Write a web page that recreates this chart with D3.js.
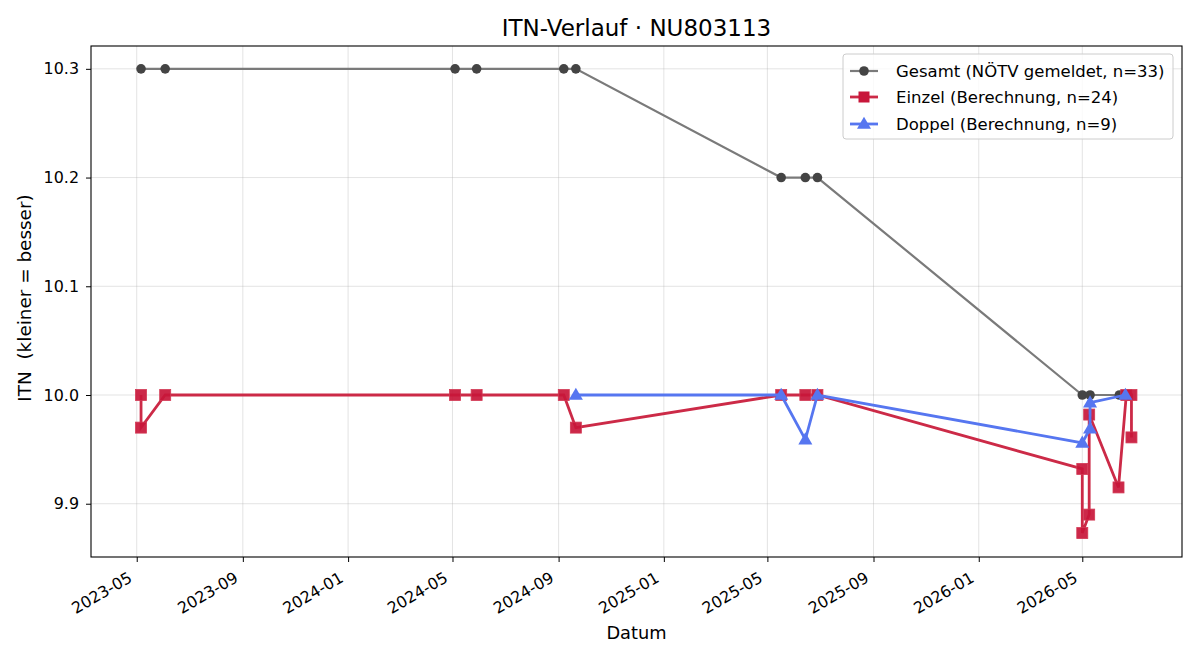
<!DOCTYPE html>
<html><head><meta charset="utf-8">
<script src="https://cdn.jsdelivr.net/npm/d3@7"></script>
<style>body{margin:0;background:#fff;font-family:"DejaVu Sans",sans-serif;} text{white-space:pre;}</style>
</head><body><svg id="c" width="1200" height="660"></svg>
<script>
const titleText = "ITN-Verlauf · NU803113";
const xLabel = "Datum";
const yLabel = "ITN  (kleiner = besser)";
const xTicks = ["2023-05-01","2023-09-01","2024-01-01","2024-05-01","2024-09-01","2025-01-01","2025-05-01","2025-09-01","2026-01-01","2026-05-01"];
const yTicks = [9.9, 10.0, 10.1, 10.2, 10.3];

const gesamtDates = ["2023-05-06","2023-06-03","2024-05-04","2024-05-29","2024-09-07","2024-09-21","2025-05-17","2025-06-14","2025-06-28","2026-05-01","2026-05-10","2026-06-13","2026-06-17"];
const gesamtValues = [10.3,10.3,10.3,10.3,10.3,10.3,10.2,10.2,10.2,10.0,10.0,10.0,10.0];

const einzelDates = ["2023-05-06","2023-05-06","2023-06-03","2024-05-04","2024-05-29","2024-09-07","2024-09-21","2025-05-17","2025-06-14","2025-06-28","2026-05-01","2026-05-01","2026-05-09","2026-05-09","2026-06-12","2026-06-21","2026-06-27","2026-06-27"];
const einzelValues = [10.0,9.97,10.0,10.0,10.0,10.0,9.97,10.0,10.0,10.0,9.932,9.873,9.89,9.982,9.915,10.0,10.0,9.961];

const doppelDates = ["2024-09-21","2025-05-17","2025-06-14","2025-06-28","2026-05-01","2026-05-10","2026-05-10","2026-06-20"];
const doppelValues = [10.0,10.0,9.959,10.0,9.956,9.969,9.993,10.0];

const seriesNames = ["Gesamt (NÖTV gemeldet, n=33)","Einzel (Berechnung, n=24)","Doppel (Berechnung, n=9)"];

const parse = d3.utcParse("%Y-%m-%d");
const svg = d3.select("#c");
const L = 91, T = 46, R = 1182, B = 557;
const x = d3.scaleUtc().domain([parse("2023-03-09"), new Date(Date.UTC(2026,7,24,14))]).range([L, R]);
const y = d3.scaleLinear().domain([9.851, 10.321]).range([B, T]);
const FT = 15.9, FXL = 17.8, FYL = 18.4, FG = 16.5, FTI = 23;

// grid
const g = svg.append("g");
g.selectAll(".vg").data(xTicks).join("line")
  .attr("x1", d => x(parse(d))).attr("x2", d => x(parse(d)))
  .attr("y1", T).attr("y2", B).attr("stroke", "#b0b0b0").attr("stroke-opacity", 0.35).attr("stroke-width", 1);
g.selectAll(".hg").data(yTicks).join("line")
  .attr("y1", d => y(d)).attr("y2", d => y(d))
  .attr("x1", L).attr("x2", R).attr("stroke", "#b0b0b0").attr("stroke-opacity", 0.35).attr("stroke-width", 1);

// axes
const xAxis = d3.axisBottom(x).tickValues(xTicks.map(parse)).tickFormat(d3.utcFormat("%Y-%m")).tickSize(5).tickPadding(3.5);
const xa = svg.append("g").attr("transform", `translate(0,${B})`).call(xAxis);
xa.select(".domain").remove();
xa.selectAll("line").attr("stroke", "#000").attr("stroke-width", 1);
xa.selectAll("text").attr("font-size", FT).attr("font-family", "DejaVu Sans").attr("fill", "#000")
  .attr("text-anchor", "end").attr("y", 0).attr("dy", 0)
  .attr("transform", "translate(-4,24) rotate(-30)");

const yAxis = d3.axisLeft(y).tickValues(yTicks).tickFormat(d3.format(".1f")).tickSize(5).tickPadding(7);
const ya = svg.append("g").attr("transform", `translate(${L},0)`).call(yAxis);
ya.select(".domain").remove();
ya.selectAll("line").attr("stroke", "#000").attr("stroke-width", 1);
ya.selectAll("text").attr("font-size", FT).attr("font-family", "DejaVu Sans").attr("fill", "#000");

// series
function pts(dates, vals){ return dates.map((d,i)=>({d:parse(d), v:vals[i]})); }
const line = d3.line().x(p => x(p.d)).y(p => y(p.v));

const gs = pts(gesamtDates, gesamtValues);
const grayLine = "#7a7a7a", grayDot = "#444444";
svg.append("path").datum(gs).attr("d", line).attr("fill","none").attr("stroke",grayLine).attr("stroke-width",2.2);
svg.selectAll(".gd").data(gs).join("circle").attr("cx", p=>x(p.d)).attr("cy", p=>y(p.v)).attr("r",4.8).attr("fill",grayDot);

const es = pts(einzelDates, einzelValues);
const red = "#c8163a", redLine = "#cc2a47";
svg.append("path").datum(es).attr("d", line).attr("fill","none").attr("stroke",redLine).attr("stroke-width",2.8);
svg.selectAll(".ed").data(es).join("rect").attr("x", p=>x(p.d)-5.5).attr("y", p=>y(p.v)-5.5).attr("width",11).attr("height",11)
  .attr("fill", red).attr("fill-opacity",0.92).attr("stroke", "#d33a55").attr("stroke-width",0.8);

const ds = pts(doppelDates, doppelValues);
const blue = "#5676f0";
svg.append("path").datum(ds).attr("d", line).attr("fill","none").attr("stroke",blue).attr("stroke-width",2.8);
const tri = d3.symbol().type(d3.symbolTriangle).size(85);
svg.selectAll(".dd").data(ds).join("path").attr("d", tri)
  .attr("transform", p=>`translate(${x(p.d)},${y(p.v)+0.8})`).attr("fill", blue);

// frame
svg.append("rect").attr("x",L).attr("y",T).attr("width",R-L).attr("height",B-T).attr("fill","none").attr("stroke","#000").attr("stroke-width",1.1);

// labels
svg.append("text").attr("x",(L+R)/2).attr("y",36).attr("text-anchor","middle").attr("font-size",FTI).attr("font-family","DejaVu Sans").text(titleText);
svg.append("text").attr("x",(L+R)/2).attr("y",639).attr("text-anchor","middle").attr("font-size",FXL).attr("font-family","DejaVu Sans").text(xLabel);
svg.append("text").attr("transform",`translate(31,298) rotate(-90)`).attr("text-anchor","middle").attr("font-size",FYL).attr("font-family","DejaVu Sans").text(yLabel);

// legend
const lg = svg.append("g");
lg.append("rect").attr("x",843).attr("y",54).attr("width",330).attr("height",85).attr("rx",3)
  .attr("fill","#fff").attr("fill-opacity",0.8).attr("stroke","#cccccc").attr("stroke-width",1);
const rows = [71, 97, 124];
lg.append("line").attr("x1",850).attr("x2",878).attr("y1",rows[0]).attr("y2",rows[0]).attr("stroke",grayLine).attr("stroke-width",2.2);
lg.append("circle").attr("cx",864).attr("cy",rows[0]).attr("r",4.8).attr("fill",grayDot);
lg.append("line").attr("x1",850).attr("x2",878).attr("y1",rows[1]).attr("y2",rows[1]).attr("stroke",redLine).attr("stroke-width",2.8);
lg.append("rect").attr("x",858.5).attr("y",rows[1]-5.5).attr("width",11).attr("height",11).attr("fill",red);
lg.append("line").attr("x1",850).attr("x2",878).attr("y1",rows[2]).attr("y2",rows[2]).attr("stroke",blue).attr("stroke-width",2.8);
lg.append("path").attr("d",tri).attr("transform",`translate(864,${rows[2]+0.8})`).attr("fill",blue);
lg.selectAll(".lt").data(seriesNames).join("text").attr("x",896).attr("y",(d,i)=>rows[i]).attr("dy","0.36em")
  .attr("font-size",FG).attr("font-family","DejaVu Sans").attr("fill","#000").text(d=>d);
</script></body></html>
